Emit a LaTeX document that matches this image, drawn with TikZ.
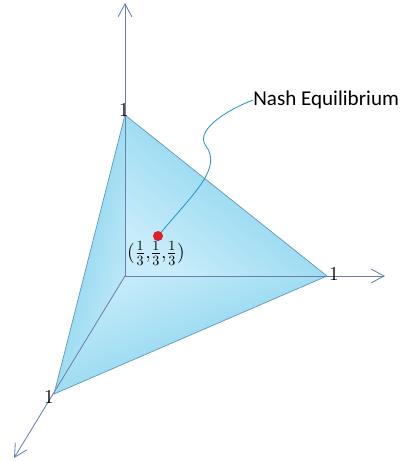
\documentclass[tikz,border=0pt]{standalone}
\usepackage{fontspec}
\newfontfamily\calibri{Carlito}
\usetikzlibrary{arrows.meta}
\definecolor{facedark}{RGB}{118,205,236}
\definecolor{facelight}{RGB}{200,236,249}
\definecolor{edgeblue}{RGB}{96,150,190}
\definecolor{axisblue}{RGB}{104,128,176}
\definecolor{leadblue}{RGB}{40,150,200}
\definecolor{dotred}{RGB}{222,30,40}

\begin{document}
\begin{tikzpicture}[x=0.025cm, y=-0.025cm,
  axis/.style={draw=axisblue, line width=0.6pt, -{Straight Barb[length=3.2mm,width=3.4mm]}},
  edge/.style={draw=edgeblue, line width=0.5pt},
  face/.style={top color=facedark, bottom color=facelight},
  one/.style={font=\fontsize{14}{16}\selectfont, inner sep=0pt},
  note/.style={font=\calibri\fontsize{15}{17}\selectfont, inner sep=0pt}
]
\useasboundingbox (0,0) rectangle (406,461);
\coordinate (O) at (125,276);
\coordinate (A) at (125,115);
\coordinate (B) at (327,276);
\coordinate (C) at (54,394);
\coordinate (ytip) at (125,3);
\coordinate (xtip) at (385,276);
\coordinate (ztip) at (14,458);
% three faces of the simplex
\shade[face, shading angle=-39] (O) -- (A) -- (B) -- cycle;
\shade[face, shading angle=-157] (O) -- (B) -- (C) -- cycle;
\shade[face, shading angle=76] (O) -- (C) -- (A) -- cycle;
\draw[edge] (A) -- (B) -- (C) -- cycle;
\draw[axis] (O) -- (ytip);
\draw[axis] (O) -- (xtip);
\draw[axis] (O) -- (ztip);
\node[one] (a1) at (124,110) {1};
\node[one] (b1) at (334,274) {1};
\node[one] (c1) at (49,397) {1};
\node[circle, fill=dotred, minimum size=0.25cm, inner sep=0pt] (eq) at (158,236) {};
\node[inner sep=0pt, font=\fontsize{14}{16}\selectfont] (eqlabel) at (156,253) {$\bigl(\frac{1}{3}{,}\frac{1}{3}{,}\frac{1}{3}\bigr)$};
\node[note, anchor=west] (nash) at (253,100) {Nash Equilibrium};
\draw[leadblue, line width=0.6pt] (eq) .. controls (195,192) and (222,168) .. (206,146)
  .. controls (195,132) and (222,112) .. (nash.west);
\end{tikzpicture}
\end{document}
